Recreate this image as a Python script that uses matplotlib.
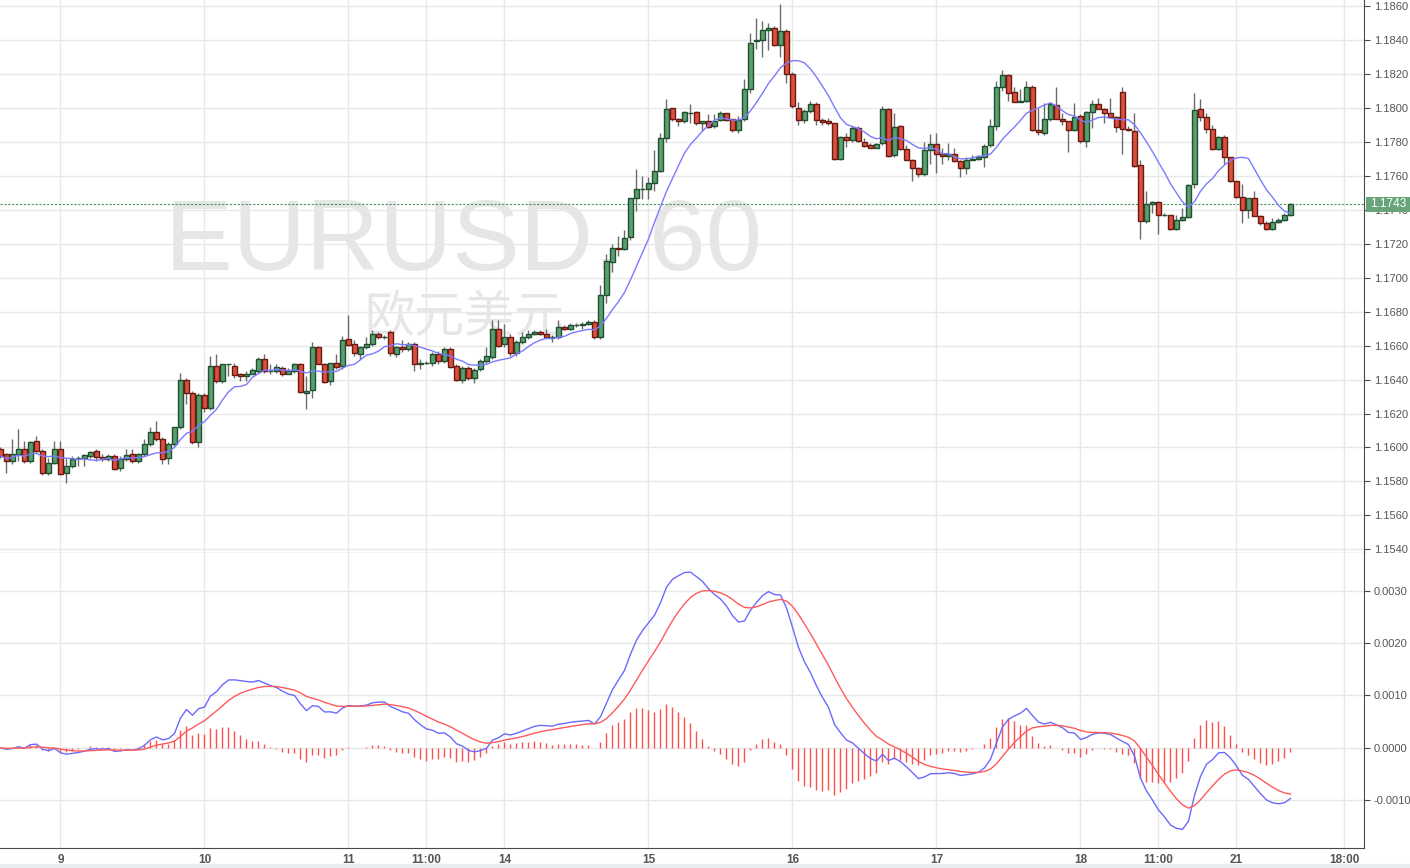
import matplotlib
matplotlib.use("Agg")
import matplotlib.pyplot as plt
import matplotlib.transforms as mtransforms
import numpy as np
import pandas as pd

plt.rcParams["font.family"] = ["Liberation Sans", "DejaVu Sans"]

# EURUSD hourly candles (oldest first)
open_ = [
    1.1599, 1.1596, 1.1592, 1.1596, 1.1599, 1.1592, 1.1604, 1.1598, 1.1585, 1.1591,
    1.1599, 1.1585, 1.1589, 1.1594, 1.1594, 1.1595, 1.1598, 1.15945, 1.1593, 1.1595,
    1.1588, 1.1593, 1.1596, 1.1592, 1.1596, 1.1602, 1.1609, 1.1605, 1.1594, 1.1602,
    1.1612, 1.1640, 1.1632, 1.1603, 1.1631, 1.1623, 1.1648, 1.1639, 1.1649, 1.1648,
    1.1643, 1.1642, 1.16435, 1.1645, 1.1652, 1.1645, 1.1645, 1.1647, 1.16435, 1.1645,
    1.1649, 1.1632, 1.1634, 1.1659, 1.1649, 1.1639, 1.1650, 1.1648, 1.1664, 1.1661,
    1.1655, 1.1659, 1.1661, 1.16665, 1.1665, 1.1668, 1.1655, 1.1659, 1.1658, 1.1661,
    1.1649, 1.1650, 1.16495, 1.1655, 1.1651, 1.1658, 1.1648, 1.1640, 1.1647, 1.1641,
    1.1646, 1.1651, 1.1653, 1.16695, 1.1661, 1.1665, 1.16555, 1.1662, 1.1665, 1.16666,
    1.1668, 1.16666, 1.1665, 1.1665, 1.1671, 1.16695, 1.1672, 1.1672, 1.16725, 1.1674,
    1.1665, 1.1690, 1.1709, 1.17175, 1.17165, 1.1724, 1.17465, 1.17518, 1.1752, 1.17553,
    1.17624, 1.1782, 1.1800, 1.17935, 1.1792, 1.1797, 1.17975, 1.1791, 1.1792, 1.1789,
    1.17924, 1.1797, 1.1793, 1.17865, 1.1793, 1.1811, 1.1839, 1.1840, 1.18455, 1.18467,
    1.18365, 1.1845, 1.1820, 1.1800, 1.17925, 1.1798, 1.1802, 1.17925, 1.1792, 1.17908,
    1.17696, 1.17825, 1.1781, 1.1788, 1.1780, 1.1778, 1.17763, 1.1779, 1.1799, 1.1772,
    1.1789, 1.17753, 1.17694, 1.17647, 1.17606, 1.1775, 1.17788, 1.17724, 1.17716, 1.17724,
    1.17686, 1.17647, 1.17694, 1.17696, 1.17706, 1.1778, 1.1789, 1.1812, 1.1819, 1.1809,
    1.18035, 1.1804, 1.1812, 1.17865, 1.1785, 1.17935, 1.18015, 1.17935, 1.17918, 1.17865,
    1.1795, 1.17804, 1.17976, 1.1802, 1.17994, 1.17965, 1.17945, 1.1809, 1.17876, 1.17863,
    1.17663, 1.17335, 1.17435, 1.17447, 1.17367, 1.1737, 1.17288, 1.1734, 1.17353, 1.1755,
    1.1799, 1.17945, 1.17876, 1.17753, 1.17824, 1.17706, 1.17565, 1.17475, 1.17396, 1.17467,
    1.17363, 1.17318, 1.17288, 1.17324, 1.17337, 1.17367,
]
high = [
    1.1600, 1.1597, 1.1605, 1.1611, 1.1604, 1.1604, 1.1607, 1.1599, 1.1594, 1.1604,
    1.1604, 1.1594, 1.1595, 1.1595, 1.1596, 1.1598, 1.1599, 1.1596, 1.1596, 1.1596,
    1.1595, 1.1599, 1.1599, 1.1597, 1.1605, 1.1612, 1.16155, 1.1606, 1.1603, 1.1612,
    1.1644, 1.1641, 1.1633, 1.1632, 1.1632, 1.1654, 1.1655, 1.1649, 1.1649, 1.1650,
    1.1644, 1.1645, 1.1647, 1.1653, 1.1655, 1.1649, 1.1649, 1.1648, 1.1647, 1.1650,
    1.1650, 1.1642, 1.1662, 1.1660, 1.1650, 1.1650, 1.1655, 1.16655, 1.1678, 1.1663,
    1.1660, 1.1665, 1.1669, 1.1668, 1.1666, 1.1669, 1.1660, 1.16635, 1.1662, 1.1662,
    1.1652, 1.1651, 1.1656, 1.1657, 1.1659, 1.1659, 1.1649, 1.1648, 1.1648, 1.1647,
    1.1652, 1.1659, 1.1675, 1.1675, 1.16725, 1.1667, 1.1663, 1.1668, 1.1669, 1.1669,
    1.1669, 1.1670, 1.1666, 1.1675, 1.1672, 1.1673, 1.1673, 1.1674, 1.1675, 1.1675,
    1.16955, 1.1714, 1.1720, 1.17247, 1.1728, 1.1747, 1.17637, 1.1760, 1.1759, 1.1775,
    1.1785, 1.1805, 1.1800, 1.1794, 1.1798, 1.1802, 1.1798, 1.1792, 1.1796, 1.1796,
    1.1798, 1.1797, 1.1793, 1.1795, 1.18169, 1.18441, 1.18529, 1.18506, 1.1850, 1.1848,
    1.1861, 1.1846, 1.1821, 1.1803, 1.1799, 1.1804, 1.1803, 1.1794, 1.1794, 1.1791,
    1.1783, 1.1785, 1.1789, 1.1789, 1.1782, 1.1779, 1.1779, 1.18008, 1.1800, 1.17969,
    1.1790, 1.1778, 1.1770, 1.1765, 1.17798, 1.17847, 1.1785, 1.1776, 1.1779, 1.1776,
    1.1769, 1.1771, 1.1772, 1.1772, 1.17788, 1.17935, 1.18157, 1.1822, 1.1820, 1.1812,
    1.18106, 1.18155, 1.1813, 1.1800, 1.18027, 1.1803, 1.18118, 1.1797, 1.1792, 1.18024,
    1.1796, 1.1798, 1.18045, 1.18057, 1.1800, 1.18057, 1.1795, 1.18118, 1.1789, 1.17965,
    1.1769, 1.17508, 1.1745, 1.1745, 1.1738, 1.1737, 1.1737, 1.17406, 1.1755, 1.18088,
    1.18049, 1.1797, 1.1790, 1.1783, 1.1784, 1.1771, 1.1757, 1.1755, 1.1747, 1.17508,
    1.1737, 1.1733, 1.1735, 1.1735, 1.1738, 1.1744,
]
low = [
    1.1594, 1.1585, 1.1590, 1.1592, 1.1591, 1.1591, 1.1597, 1.1584, 1.1584, 1.1590,
    1.1584, 1.1579, 1.1588, 1.1589, 1.1589, 1.1594, 1.1592, 1.1592, 1.1592, 1.1587,
    1.1586, 1.1592, 1.1591, 1.1591, 1.1595, 1.1601, 1.1604, 1.1590, 1.1590, 1.1601,
    1.1611, 1.16255, 1.1602, 1.1600, 1.1621, 1.1622, 1.1638, 1.1638, 1.1642, 1.1641,
    1.1639, 1.1639, 1.1643, 1.1644, 1.1644, 1.1643, 1.1644, 1.1642, 1.1643, 1.1644,
    1.1632, 1.16225, 1.1629, 1.1649, 1.1638, 1.1637, 1.1646, 1.1646, 1.1660, 1.1654,
    1.1652, 1.1658, 1.1660, 1.1664, 1.1664, 1.1654, 1.1653, 1.1656, 1.1657, 1.1645,
    1.1646, 1.1649, 1.1648, 1.1649, 1.1650, 1.1647, 1.1639, 1.1638, 1.1640, 1.1638,
    1.1645, 1.1650, 1.1652, 1.1659, 1.1659, 1.1654, 1.1654, 1.1661, 1.1664, 1.1666,
    1.1666, 1.1664, 1.1662, 1.1664, 1.1669, 1.1669, 1.1671, 1.1670, 1.1672, 1.1664,
    1.1664, 1.1685, 1.1703, 1.17127, 1.1716, 1.1722, 1.17392, 1.1746, 1.1746, 1.1751,
    1.1762, 1.1780, 1.1792, 1.1789, 1.1791, 1.1791, 1.1790, 1.1786, 1.1788, 1.1788,
    1.1792, 1.1792, 1.17855, 1.1785, 1.1792, 1.18084, 1.18343, 1.18296, 1.1834, 1.1836,
    1.18296, 1.18143, 1.1800, 1.1790, 1.1791, 1.1797, 1.1790, 1.1790, 1.1790, 1.1769,
    1.1769, 1.1777, 1.1780, 1.1780, 1.1777, 1.1776, 1.1776, 1.1778, 1.1771, 1.1771,
    1.1775, 1.1769, 1.17569, 1.1759, 1.1760, 1.1767, 1.17612, 1.1767, 1.1769, 1.1768,
    1.1759, 1.1761, 1.1769, 1.1769, 1.1765, 1.1777, 1.1787, 1.1810, 1.18039, 1.1803,
    1.1803, 1.1803, 1.1786, 1.1784, 1.1784, 1.1792, 1.1793, 1.1790, 1.17739, 1.1786,
    1.1779, 1.17769, 1.1788, 1.1799, 1.1791, 1.1794, 1.17857, 1.17725, 1.1786, 1.1765,
    1.17227, 1.1732, 1.1738, 1.17255, 1.1736, 1.1728, 1.1728, 1.1733, 1.1735, 1.17524,
    1.1792, 1.1785, 1.1775, 1.1775, 1.1767, 1.1756, 1.1747, 1.17322, 1.1735, 1.1736,
    1.1731, 1.1728, 1.1728, 1.1732, 1.1733, 1.1736,
]
close = [
    1.1595, 1.1592, 1.1596, 1.1599, 1.1592, 1.16035, 1.1598, 1.1585, 1.1591, 1.1599,
    1.15845, 1.1589, 1.15935, 1.1594, 1.15955, 1.15975, 1.15945, 1.1593, 1.1595, 1.15875,
    1.15935, 1.15955, 1.1592, 1.1596, 1.1602, 1.1609, 1.1605, 1.15935, 1.1602, 1.1612,
    1.1640, 1.1632, 1.16035, 1.1631, 1.16235, 1.1648, 1.1639, 1.1649, 1.1649, 1.16425,
    1.1642, 1.16435, 1.16455, 1.1652, 1.1645, 1.1645, 1.16475, 1.16435, 1.1645, 1.1649,
    1.16325, 1.16335, 1.1659, 1.1649, 1.16385, 1.1650, 1.16475, 1.16635, 1.16605, 1.16555,
    1.1659, 1.1661, 1.16665, 1.1665, 1.1665, 1.16555, 1.1659, 1.1658, 1.1661, 1.1649,
    1.1650, 1.1650, 1.1655, 1.1651, 1.1658, 1.16475, 1.1640, 1.16465, 1.1641, 1.16455,
    1.1651, 1.1654, 1.16695, 1.1660, 1.1665, 1.16555, 1.1662, 1.16648, 1.16666, 1.1668,
    1.16666, 1.16648, 1.1665, 1.1671, 1.16695, 1.1672, 1.1672, 1.16725, 1.1674, 1.1665,
    1.16895, 1.17095, 1.17175, 1.17165, 1.17235, 1.17465, 1.17518, 1.17518, 1.17553, 1.17624,
    1.17818, 1.17994, 1.17935, 1.1792, 1.17975, 1.1797, 1.17906, 1.17922, 1.17886, 1.17922,
    1.17967, 1.17924, 1.17865, 1.17927, 1.18108, 1.18378, 1.1840, 1.18457, 1.18467, 1.18365,
    1.18451, 1.18196, 1.18006, 1.17925, 1.1798, 1.1802, 1.17925, 1.17916, 1.17906, 1.17696,
    1.17825, 1.17806, 1.1788, 1.17804, 1.17776, 1.17763, 1.17788, 1.17994, 1.17716, 1.17888,
    1.17753, 1.17694, 1.17647, 1.17606, 1.17749, 1.17788, 1.17724, 1.17716, 1.17724, 1.17686,
    1.17647, 1.17694, 1.17696, 1.17706, 1.17776, 1.17894, 1.18122, 1.18194, 1.18088, 1.18035,
    1.1804, 1.18118, 1.17865, 1.17853, 1.17935, 1.1802, 1.17935, 1.17918, 1.17865, 1.17947,
    1.17804, 1.17976, 1.18018, 1.17994, 1.17965, 1.17945, 1.17888, 1.17876, 1.17865, 1.17655,
    1.17335, 1.17435, 1.17447, 1.17367, 1.17367, 1.17288, 1.17337, 1.17353, 1.17547, 1.17988,
    1.17945, 1.17876, 1.17753, 1.17824, 1.17706, 1.17565, 1.17475, 1.17396, 1.17467, 1.17363,
    1.17318, 1.17288, 1.17324, 1.17337, 1.17367, 1.17432,
]

tick_bars = [10, 34, 58, 71, 84, 108, 132, 156, 180, 193, 206, 224]
tick_labels = ["9", "10", "11", "11:00", "14", "15", "16", "17", "18", "11:00", "21", "18:00"]
price_ticks = [1.1540, 1.1560, 1.1580, 1.1600, 1.1620, 1.1640, 1.1660, 1.1680, 1.1700,
               1.1720, 1.1740, 1.1760, 1.1780, 1.1800, 1.1820, 1.1840, 1.1860]
macd_ticks = [-0.0010, 0.0000, 0.0010, 0.0020, 0.0030]
last_price = 1.1743

# indicators: 10-bar SMA on price, MACD(12, 26, 9)
c = pd.Series(close)
ma = c.rolling(10, min_periods=1).mean()
macd = c.ewm(span=12, adjust=False).mean() - c.ewm(span=26, adjust=False).mean()
signal = macd.ewm(span=9, adjust=False).mean()
hist = macd - signal

GREEN, GREEN_EDGE = "#5b9e70", "#1f5130"
RED, RED_EDGE = "#d9503f", "#6a1a10"
WICK = "#6b6b6b"
GRID = "#e8e8e8"
AXIS = "#4a4a4a"
TXT = "#555555"

fig = plt.figure(figsize=(14.10, 8.68), dpi=100)
ax = fig.add_axes([0, 1 - 553 / 868, 1364 / 1410, 553 / 868])
ax2 = fig.add_axes([0, 1 - 848 / 868, 1364 / 1410, 295 / 868])

x = np.arange(len(close))
o, h, l, cl = map(np.asarray, (open_, high, low, close))
up = cl >= o

for a in (ax, ax2):
    a.set_xlim(-0.083, 227.25)
    for b in tick_bars:
        a.axvline(b, color=GRID, lw=1, zorder=0)
    a.spines["top"].set_visible(False)
    a.spines["left"].set_visible(False)
    a.spines["right"].set_color(AXIS)
    a.spines["bottom"].set_color(AXIS)
    a.yaxis.tick_right()
    a.tick_params(axis="y", direction="out", length=4, color=AXIS, labelsize=8,
                  labelcolor=TXT, pad=3)

# watermark
ax.text(27.4, 1.17044, "EURUSD, 60", fontsize=73, color="#e6e6e6",
        ha="left", va="baseline", zorder=0)
ax.text(60.6, 1.16762, "欧元美元", fontsize=36, color="#e6e6e6",
        family=["Noto Sans CJK SC", "DejaVu Sans"], ha="left", va="center", zorder=0)

# price panel
ax.set_ylim(1.153794, 1.186324)
ax.set_yticks(price_ticks)
ax.set_yticklabels([f"{p:.4f}" for p in price_ticks])
for p in price_ticks:
    ax.axhline(p, color=GRID, lw=1, zorder=0)
ax.set_xticks([])

ax.vlines(x, l, h, color=WICK, lw=1, zorder=2)
body_lo = np.minimum(o, cl)
body_h = np.abs(cl - o)
ax.bar(x[up], body_h[up], bottom=body_lo[up], width=0.7, color=GREEN,
       edgecolor=GREEN_EDGE, lw=1, zorder=3)
ax.bar(x[~up], body_h[~up], bottom=body_lo[~up], width=0.7, color=RED,
       edgecolor=RED_EDGE, lw=1, zorder=3)
ax.plot(x, ma, color="#7a7aff", lw=1, zorder=4)

ax.axhline(last_price, color="#3f9a5f", lw=0.8, ls=(0, (2, 1.5)), zorder=1)

# last-price tag on the right scale, covering the 1.1740 label
y_tag = ax.transData.transform((0, last_price))[1] / fig.bbox.height
tag = plt.Rectangle((1366 / 1410, y_tag - 7.5 / 868), 44 / 1410, 15 / 868,
                    transform=fig.transFigure, fc="#67a47a", ec="none", zorder=10)
fig.add_artist(tag)
fig.text(1388 / 1410, y_tag, f"{last_price:.4f}", color="white", fontsize=8.5,
         ha="center", va="center", zorder=11)

# MACD panel
ax2.set_ylim(-0.0019048, 0.0037143)
ax2.set_yticks(macd_ticks)
ax2.set_yticklabels([f"{v:.4f}" for v in macd_ticks])
for v in macd_ticks:
    ax2.axhline(v, color=GRID, lw=1, zorder=0)
ax2.vlines(x, 0, hist, color="#ff5050", lw=1, zorder=2)
ax2.plot(x, macd, color="#6a6aff", lw=1, zorder=3)
ax2.plot(x, signal, color="#ff5a5a", lw=1, zorder=3)
ax2.set_xticks(tick_bars)
ax2.set_xticklabels(tick_labels)
ax2.tick_params(axis="x", length=0, pad=4, labelsize=8.5, labelcolor=TXT)
for t in ax2.get_xticklabels():
    t.set_fontweight("bold")

fig.patches.append(plt.Rectangle((0, 0), 1, 4 / 868, transform=fig.transFigure,
                                 color="#e9edf2", zorder=0))
fig.savefig("out.png", dpi=100)
